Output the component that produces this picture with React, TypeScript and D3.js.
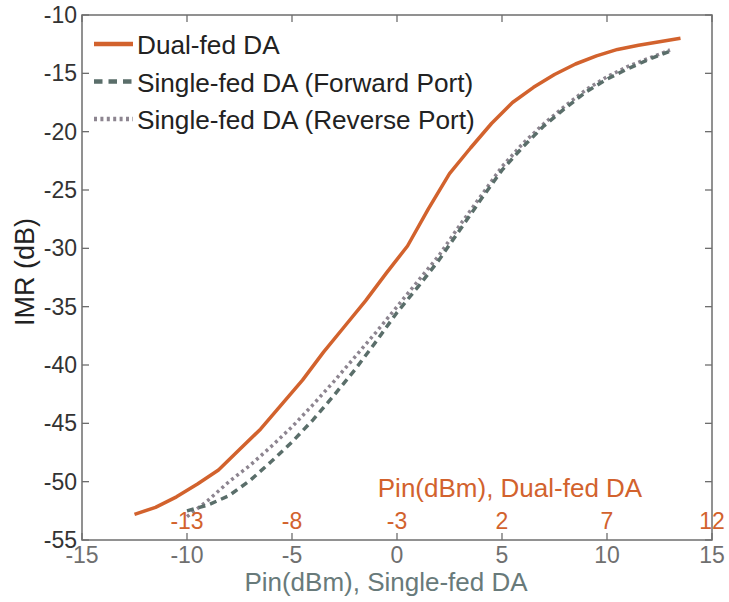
import React from 'react';
import * as d3 from 'd3';

// ---- data ----
const singleTicks = [-15, -10, -5, 0, 5, 10, 15];
const dualTickValues = [-13, -8, -3, 2, 7, 12];
const yTicks = [-10, -15, -20, -25, -30, -35, -40, -45, -50, -55];

const dualPin = [-15.5, -14.5, -13.5, -12.5, -11.5, -10.5, -9.5, -8.5, -7.5, -6.5, -5.5, -4.5, -3.5, -2.5, -1.5, -0.5, 0.5, 1.5, 2.5, 3.5, 4.5, 5.5, 6.5, 7.5, 8.5, 9.5, 10.5];
const dualIMR = [-52.8, -52.2, -51.3, -50.2, -49.0, -47.25, -45.5, -43.4, -41.3, -38.9, -36.7, -34.5, -32.1, -29.8, -26.6, -23.6, -21.4, -19.3, -17.5, -16.2, -15.1, -14.2, -13.5, -12.95, -12.6, -12.3, -12.0];

const singlePin = [-10, -9, -8, -7, -6, -5, -4, -3, -2, -1, 0, 1, 2, 3, 4, 5, 6, 7, 8, 9, 10, 11, 12, 13];
const forwardIMR = [-52.5, -52.0, -51.2, -49.9, -48.3, -46.6, -44.7, -42.6, -40.4, -38.0, -35.5, -33.3, -31.0, -28.4, -25.8, -23.3, -21.3, -19.5, -18.0, -16.6, -15.5, -14.6, -13.8, -13.1];
const reverseIMR = [-53.0, -51.6, -50.0, -48.6, -47.0, -45.3, -43.4, -41.4, -39.3, -37.2, -35.0, -32.8, -30.6, -28.0, -25.5, -23.0, -21.0, -19.3, -17.8, -16.4, -15.3, -14.4, -13.7, -13.0];

const legendLabels = ['Dual-fed DA', 'Single-fed DA (Forward Port)', 'Single-fed DA (Reverse Port)'];

// ---- layout ----
const W = 729, H = 602;
const L = 82, R = 712, T = 15, B = 540;
const ORANGE = '#d2622d';
const DASH = '#5a6e6a';
const DOT = '#8d8590';
const FONT = 'Liberation Sans, Arial, Helvetica, sans-serif';

export default function App() {
  const x = d3.scaleLinear().domain([-15, 15]).range([L, R]);
  const xDual = d3.scaleLinear().domain([-18, 12]).range([L, R]);
  const y = d3.scaleLinear().domain([-55, -10]).range([B, T]);

  const line = d3.line<[number, number]>().x(d => d[0]).y(d => d[1]);
  const dualPath = line(dualPin.map((p, i) => [xDual(p), y(dualIMR[i])]));
  const fwdPath = line(singlePin.map((p, i) => [x(p), y(forwardIMR[i])]));
  const revPath = line(singlePin.map((p, i) => [x(p), y(reverseIMR[i])]));

  const tick = 7;
  const styles = [
    { stroke: ORANGE, dash: undefined as string | undefined },
    { stroke: DASH, dash: '8.5,6' },
    { stroke: DOT, dash: '3,3.4' },
  ];

  return (
    <svg width={W} height={H} style={{ position: 'absolute', left: 0, top: 0, background: '#fff' }} fontFamily={FONT}>
      <rect x={0} y={0} width={W} height={H} fill="#fff" />
      {/* curves */}
      <path d={revPath || ''} fill="none" stroke={DOT} strokeWidth={3.5} strokeDasharray="3,3.4" />
      <path d={fwdPath || ''} fill="none" stroke={DASH} strokeWidth={3.5} strokeDasharray="7,5" />
      <path d={dualPath || ''} fill="none" stroke={ORANGE} strokeWidth={3.5} strokeLinejoin="round" />

      {/* box */}
      <rect x={L} y={T} width={R - L} height={B - T} fill="none" stroke="#6e6e6e" strokeWidth={1.5} />
      {/* x ticks bottom/top */}
      {singleTicks.map(v => (
        <g key={'xt' + v}>
          <line x1={x(v)} x2={x(v)} y1={B} y2={B - tick} stroke="#6e6e6e" strokeWidth={1.3} />
          <line x1={x(v)} x2={x(v)} y1={T} y2={T + tick} stroke="#6e6e6e" strokeWidth={1.3} />
          <text x={x(v)} y={563} textAnchor="middle" fontSize={23} fill="#6f6f6f">{v}</text>
        </g>
      ))}
      {/* y ticks left/right */}
      {yTicks.map(v => (
        <g key={'yt' + v}>
          <line x1={L} x2={L + tick} y1={y(v)} y2={y(v)} stroke="#6e6e6e" strokeWidth={1.3} />
          <line x1={R} x2={R - tick} y1={y(v)} y2={y(v)} stroke="#6e6e6e" strokeWidth={1.3} />
          <text x={77} y={y(v) + 8} textAnchor="end" fontSize={23} fill="#333">{v}</text>
        </g>
      ))}
      {/* secondary dual-fed axis labels */}
      {dualTickValues.map(v => (
        <text key={'dt' + v} x={xDual(v)} y={529} textAnchor="middle" fontSize={23} fill={ORANGE}>{v}</text>
      ))}
      <text x={510} y={497} textAnchor="middle" fontSize={26} fill={ORANGE}>Pin(dBm), Dual-fed DA</text>

      {/* axis titles */}
      <text x={386} y={591} textAnchor="middle" fontSize={26} fill="#687a7a">Pin(dBm), Single-fed DA</text>
      <text transform={`translate(34,272) rotate(-90)`} textAnchor="middle" fontSize={27} fill="#222">IMR (dB)</text>

      {/* legend */}
      {legendLabels.map((lab, i) => {
        const yy = 44 + i * 37.5;
        return (
          <g key={lab}>
            <line x1={94} x2={133} y1={yy} y2={yy} stroke={styles[i].stroke} strokeWidth={4.5} strokeDasharray={styles[i].dash} />
            <text x={137} y={yy + 10} fontSize={26.2} fill="#222">{lab}</text>
          </g>
        );
      })}
    </svg>
  );
}
